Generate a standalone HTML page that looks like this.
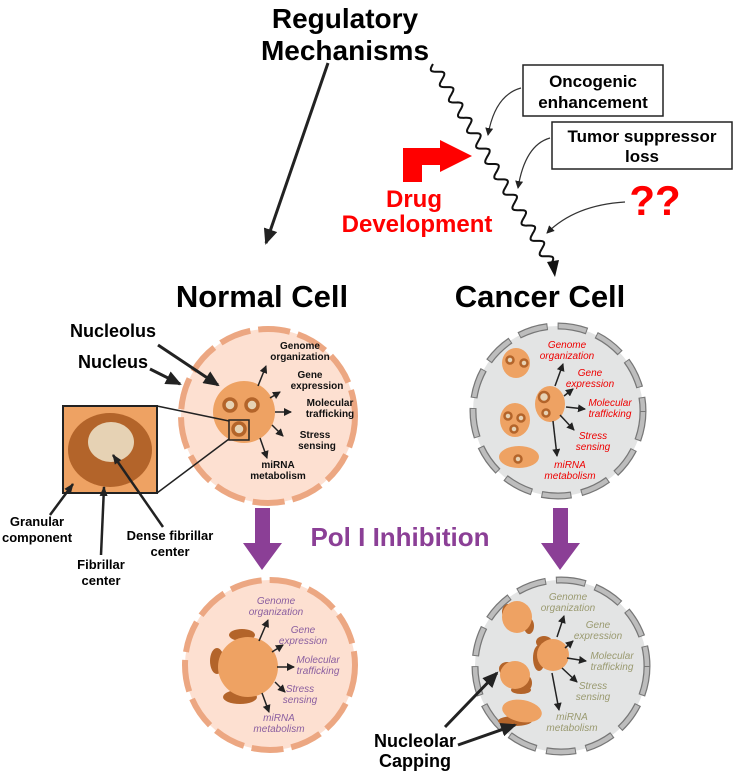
<!DOCTYPE html>
<html><head><meta charset="utf-8"><style>
body{margin:0;background:#fff}
svg{display:block}
text{font-family:"Liberation Sans",Arial,sans-serif}
.b{font-weight:bold}
</style></head><body>
<svg id="s" width="737" height="771" viewBox="0 0 737 771" xmlns="http://www.w3.org/2000/svg">
<defs>
<marker id="ah" markerWidth="8" markerHeight="8" refX="7" refY="4" orient="auto" markerUnits="userSpaceOnUse"><path d="M0,0 L8,4 L0,8 z" fill="#222"/></marker>
<marker id="ahb" markerWidth="16" markerHeight="14" refX="14" refY="7" orient="auto" markerUnits="userSpaceOnUse"><path d="M0,0 L16,7 L0,14 z" fill="#222"/></marker>
<marker id="ahs" markerWidth="10" markerHeight="10" refX="9" refY="5" orient="auto" markerUnits="userSpaceOnUse"><path d="M0,1 L10,5 L0,9 z" fill="#222"/></marker>
</defs>

<text x="345" y="28" text-anchor="middle" class="b" font-size="28">Regulatory</text>
<text x="345" y="60" text-anchor="middle" class="b" font-size="28">Mechanisms</text>

<line x1="328" y1="63" x2="266" y2="243" stroke="#222" stroke-width="3" marker-end="url(#ahb)"/>
<path id="wave" fill="none" stroke="#111" stroke-width="2" d=""/>
<path d="M547,262 L555,277 L559,260 Z" fill="#111"/>

<rect x="523" y="65" width="140" height="51" fill="#fff" stroke="#222" stroke-width="1.5"/>
<text x="593" y="87" text-anchor="middle" class="b" font-size="17">Oncogenic</text>
<text x="593" y="108" text-anchor="middle" class="b" font-size="17">enhancement</text>
<rect x="552" y="122" width="180" height="47" fill="#fff" stroke="#222" stroke-width="1.5"/>
<text x="642" y="142" text-anchor="middle" class="b" font-size="17">Tumor suppressor</text>
<text x="642" y="162" text-anchor="middle" class="b" font-size="17">loss</text>
<text x="655" y="215" text-anchor="middle" class="b" font-size="42" fill="#f00">??</text>

<path d="M521,88 Q495,95 488,135" fill="none" stroke="#333" stroke-width="1.2" marker-end="url(#ah)"/>
<path d="M550,138 Q525,145 518,188" fill="none" stroke="#333" stroke-width="1.2" marker-end="url(#ah)"/>
<path d="M625,202 Q575,205 547,233" fill="none" stroke="#333" stroke-width="1.2" marker-end="url(#ah)"/>

<path d="M403,182 L403,148 L440,148 L440,140 L472,156 L440,172 L440,165 L422,165 L422,182 Z" fill="#f00"/>
<text x="414" y="207" text-anchor="middle" class="b" font-size="24" fill="#f00">Drug</text>
<text x="417" y="232" text-anchor="middle" class="b" font-size="24" fill="#f00">Development</text>

<text x="262" y="307" text-anchor="middle" class="b" font-size="31">Normal Cell</text>
<text x="540" y="307" text-anchor="middle" class="b" font-size="31">Cancer Cell</text>

<!-- normal cell top -->
<circle cx="268" cy="416" r="87" fill="#fde0d1" stroke="#eca782" stroke-width="6" stroke-dasharray="32 8"/>
<circle cx="244" cy="412" r="31" fill="#eea263"/>
<g fill="#e6d2b4" stroke="#b3642a" stroke-width="3.5">
<circle cx="230" cy="405" r="6"/><circle cx="252" cy="405" r="6"/><circle cx="239" cy="429" r="6"/>
</g>
<rect x="229" y="420" width="20" height="20" fill="none" stroke="#222" stroke-width="1.5"/>
<g class="b" font-size="10" text-anchor="middle" fill="#111">
<text x="300" y="349">Genome</text><text x="300" y="360">organization</text>
<text x="310" y="378">Gene</text><text x="317" y="389">expression</text>
<text x="330" y="406">Molecular</text><text x="330" y="417">trafficking</text>
<text x="315" y="438">Stress</text><text x="317" y="449">sensing</text>
<text x="278" y="468">miRNA</text><text x="278" y="479">metabolism</text>
</g>
<g stroke="#222" stroke-width="1.5" fill="none">
<line x1="258" y1="386" x2="266" y2="366" marker-end="url(#ah)"/>
<line x1="270" y1="398" x2="280" y2="392" marker-end="url(#ah)"/>
<line x1="275" y1="412" x2="291" y2="412" marker-end="url(#ah)"/>
<line x1="272" y1="425" x2="283" y2="436" marker-end="url(#ah)"/>
<line x1="260" y1="438" x2="267" y2="458" marker-end="url(#ah)"/>
</g>
<line x1="158" y1="345" x2="218" y2="385" stroke="#222" stroke-width="3" marker-end="url(#ahb)"/>
<line x1="150" y1="369" x2="180" y2="384" stroke="#222" stroke-width="3" marker-end="url(#ahb)"/>
<text x="70" y="337" class="b" font-size="18">Nucleolus</text>
<text x="78" y="368" class="b" font-size="18">Nucleus</text>

<!-- inset -->
<line x1="157" y1="406" x2="229" y2="421" stroke="#222" stroke-width="1.5"/>
<line x1="157" y1="493" x2="229" y2="439" stroke="#222" stroke-width="1.5"/>
<rect x="63" y="406" width="94" height="87" fill="#eea263" stroke="#222" stroke-width="2"/>
<ellipse cx="110" cy="450" rx="42" ry="37" fill="#b3642a"/>
<ellipse cx="111" cy="442" rx="23" ry="20" fill="#e6d2b4"/>
<line x1="50" y1="515" x2="73" y2="484" stroke="#222" stroke-width="2.5" marker-end="url(#ahs)"/>
<line x1="101" y1="555" x2="104" y2="487" stroke="#222" stroke-width="2.5" marker-end="url(#ahs)"/>
<line x1="163" y1="527" x2="113" y2="455" stroke="#222" stroke-width="2.5" marker-end="url(#ahs)"/>
<g class="b" font-size="13" text-anchor="middle">
<text x="37" y="526">Granular</text><text x="37" y="542">component</text>
<text x="101" y="569">Fibrillar</text><text x="101" y="585">center</text>
<text x="170" y="540">Dense fibrillar</text><text x="170" y="556">center</text>
</g>

<!-- cancer cell top -->
<circle cx="558" cy="411" r="85" fill="#e3e4e4" stroke="#777" stroke-width="7" stroke-dasharray="30 10"/>
<circle cx="558" cy="411" r="85" fill="none" stroke="#bdbdbd" stroke-width="4.5" stroke-dasharray="28 12" stroke-dashoffset="-1"/>
<g fill="#eea263">
<ellipse cx="516" cy="363" rx="14" ry="15"/>
<ellipse cx="550" cy="404" rx="15" ry="18"/>
<ellipse cx="515" cy="420" rx="15" ry="17"/>
<ellipse cx="519" cy="457" rx="20" ry="11"/>
</g>
<g fill="#e6d2b4" stroke="#b3642a" stroke-width="2.5">
<circle cx="510" cy="360" r="3.5"/><circle cx="524" cy="363" r="3.5"/>
<circle cx="544" cy="397" r="5"/><circle cx="546" cy="413" r="3.5"/>
<circle cx="508" cy="416" r="3.5"/><circle cx="521" cy="418" r="3.5"/><circle cx="514" cy="429" r="3.5"/><circle cx="518" cy="459" r="3.5"/>
</g>
<g font-style="italic" font-size="10" text-anchor="middle" fill="#e00">
<text x="567" y="348">Genome</text><text x="567" y="359">organization</text>
<text x="590" y="376">Gene</text><text x="590" y="387">expression</text>
<text x="610" y="406">Molecular</text><text x="610" y="417">trafficking</text>
<text x="593" y="439">Stress</text><text x="593" y="450">sensing</text>
<text x="570" y="468">miRNA</text><text x="570" y="479">metabolism</text>
</g>
<g stroke="#222" stroke-width="1.5">
<line x1="555" y1="386" x2="563" y2="364" marker-end="url(#ah)"/>
<line x1="564" y1="396" x2="573" y2="389" marker-end="url(#ah)"/>
<line x1="566" y1="407" x2="585" y2="409" marker-end="url(#ah)"/>
<line x1="560" y1="415" x2="574" y2="430" marker-end="url(#ah)"/>
<line x1="553" y1="421" x2="557" y2="456" marker-end="url(#ah)"/>
</g>

<!-- Pol I -->
<text x="400" y="546" text-anchor="middle" class="b" font-size="26" fill="#8b3f96">Pol I Inhibition</text>
<path d="M255,508 L270,508 L270,543 L282,543 L262,570 L243,543 L255,543 Z" fill="#8b3f96"/>
<path d="M553,508 L568,508 L568,543 L580,543 L560,570 L541,543 L553,543 Z" fill="#8b3f96"/>

<!-- bottom normal -->
<circle cx="270" cy="665" r="85" fill="#fde0d1" stroke="#eca782" stroke-width="6" stroke-dasharray="32 8"/>
<g fill="#b3642a">
<ellipse cx="242" cy="635" rx="13" ry="6"/>
<ellipse cx="217" cy="661" rx="7" ry="13"/>
<ellipse cx="240" cy="697" rx="17" ry="7"/>
</g>
<circle cx="248" cy="667" r="30" fill="#eea263"/>
<g font-style="italic" font-size="10" text-anchor="middle" fill="#8b5fa0">
<text x="276" y="604">Genome</text><text x="276" y="615">organization</text>
<text x="303" y="633">Gene</text><text x="303" y="644">expression</text>
<text x="318" y="663">Molecular</text><text x="318" y="674">trafficking</text>
<text x="300" y="692">Stress</text><text x="300" y="703">sensing</text>
<text x="279" y="721">miRNA</text><text x="279" y="732">metabolism</text>
</g>
<g stroke="#222" stroke-width="1.5">
<line x1="259" y1="641" x2="268" y2="620" marker-end="url(#ah)"/>
<line x1="272" y1="652" x2="283" y2="645" marker-end="url(#ah)"/>
<line x1="277" y1="667" x2="294" y2="667" marker-end="url(#ah)"/>
<line x1="275" y1="682" x2="285" y2="692" marker-end="url(#ah)"/>
<line x1="262" y1="693" x2="269" y2="712" marker-end="url(#ah)"/>
</g>

<!-- bottom cancer -->
<circle cx="561" cy="666" r="86" fill="#e3e4e4" stroke="#777" stroke-width="7" stroke-dasharray="30 10"/>
<circle cx="561" cy="666" r="86" fill="none" stroke="#bdbdbd" stroke-width="4.5" stroke-dasharray="28 12" stroke-dashoffset="-1"/>
<g fill="#b3642a">
<ellipse cx="508" cy="612" rx="6" ry="8"/><ellipse cx="529" cy="626" rx="5" ry="8"/>
<ellipse cx="544" cy="642" rx="8" ry="6"/><ellipse cx="539" cy="658" rx="6" ry="13"/>
<ellipse cx="507" cy="669" rx="8" ry="7"/><ellipse cx="526" cy="683" rx="6" ry="8"/><ellipse cx="521" cy="690" rx="10" ry="4"/>
<ellipse cx="515" cy="721" rx="17" ry="5"/>
</g>
<g fill="#eea263">
<ellipse cx="517" cy="617" rx="15" ry="16"/>
<ellipse cx="553" cy="655" rx="16" ry="16"/>
<ellipse cx="515" cy="675" rx="15" ry="14"/>
<ellipse cx="522" cy="711" rx="20" ry="11" transform="rotate(10 522 711)"/>
</g>
<g font-style="italic" font-size="10" text-anchor="middle" fill="#9a9a70">
<text x="568" y="600">Genome</text><text x="568" y="611">organization</text>
<text x="598" y="628">Gene</text><text x="598" y="639">expression</text>
<text x="612" y="659">Molecular</text><text x="612" y="670">trafficking</text>
<text x="593" y="689">Stress</text><text x="593" y="700">sensing</text>
<text x="572" y="720">miRNA</text><text x="572" y="731">metabolism</text>
</g>
<g stroke="#222" stroke-width="1.5">
<line x1="557" y1="637" x2="564" y2="616" marker-end="url(#ah)"/>
<line x1="565" y1="648" x2="573" y2="641" marker-end="url(#ah)"/>
<line x1="567" y1="658" x2="586" y2="661" marker-end="url(#ah)"/>
<line x1="562" y1="668" x2="577" y2="682" marker-end="url(#ah)"/>
<line x1="552" y1="673" x2="559" y2="710" marker-end="url(#ah)"/>
</g>
<line x1="445" y1="727" x2="497" y2="673" stroke="#222" stroke-width="3" marker-end="url(#ahb)"/>
<line x1="458" y1="745" x2="515" y2="725" stroke="#222" stroke-width="3" marker-end="url(#ahb)"/>
<text x="415" y="747" text-anchor="middle" class="b" font-size="18">Nucleolar</text>
<text x="415" y="767" text-anchor="middle" class="b" font-size="18">Capping</text>
</svg>
<script>
(function(){
var x0=433,y0=64,x1=551,y1=264,waves=13,a=5;
var dx=x1-x0,dy=y1-y0,L=Math.sqrt(dx*dx+dy*dy),px=-dy/L,py=dx/L;
var d="M"+x0+","+y0;
for(var i=1;i<=300;i++){var t=i/300;var off=a*Math.sin(t*waves*2*Math.PI);
d+=" L"+(x0+dx*t+px*off).toFixed(1)+","+(y0+dy*t+py*off).toFixed(1);}
document.getElementById("wave").setAttribute("d",d);
})();
</script>
</body></html>
